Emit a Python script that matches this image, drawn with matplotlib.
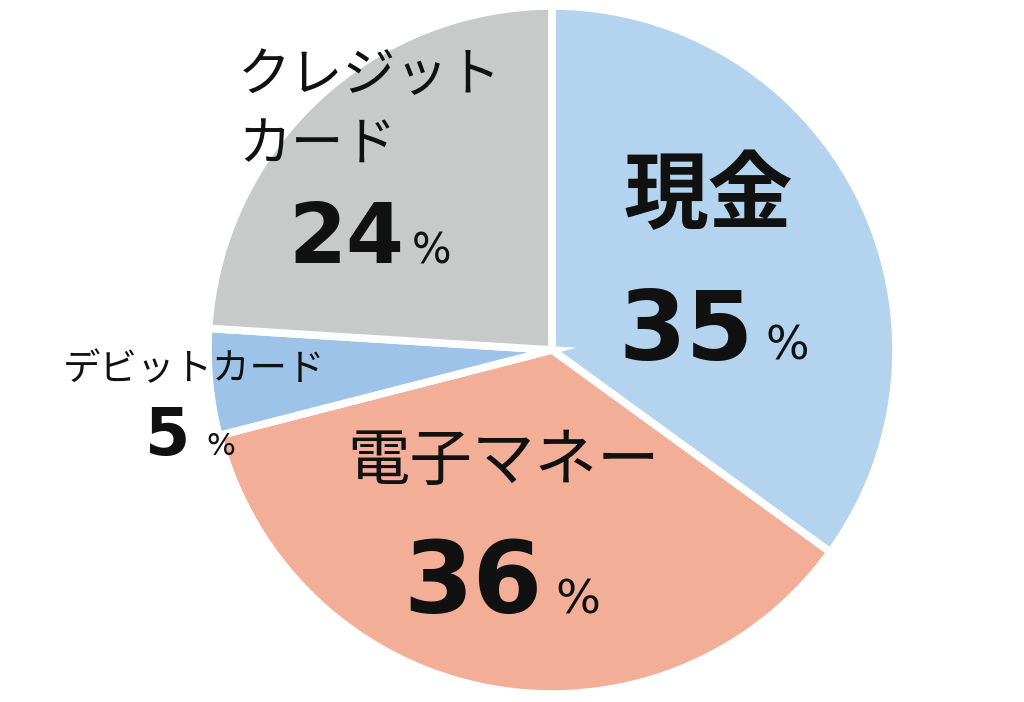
import matplotlib
matplotlib.use('Agg')
import matplotlib.pyplot as plt

plt.rcParams['font.family'] = ['Noto Sans CJK JP', 'DejaVu Sans']

labels = ['現金', '電子マネー', 'デビットカード', 'クレジットカード']
shares = [35, 36, 5, 24]
colors = ['#b3d3ee', '#f3ae98', '#9dc3e9', '#c8c9c9']

fig = plt.figure(figsize=(10.24, 7.02), dpi=100)
ax = fig.add_axes([0, 0, 1, 1])

# pie centre/radius in pixel units
ax.pie(shares, colors=colors, startangle=90, counterclock=False,
       center=(552, 352), radius=344,
       wedgeprops=dict(edgecolor='white', linewidth=5.5))
ax.set_xlim(0, 1024)
ax.set_ylim(0, 702)
ax.set_aspect('equal')
ax.axis('off')

INK = '#111111'

def pct(x, y, value, size, psize, gap):
    # big bold number ending at x, small % sign after it
    ax.text(x, y, str(value), fontsize=size, fontweight='bold',
            family='DejaVu Sans', ha='right', va='baseline', color=INK)
    ax.text(x + gap, y, '%', fontsize=psize, family='DejaVu Sans',
            ha='left', va='baseline', color=INK)

# 現金
ax.text(708, 505, '現金', fontsize=61, fontweight='bold', ha='center',
        va='center', color=INK)
pct(754, 342, shares[0], 70, 33, 12)

# 電子マネー
ax.text(504, 240, '電子マネー', fontsize=45, ha='center', va='center',
        color=INK)
pct(543, 89, shares[1], 72, 34, 12)

# クレジットカード
ax.text(238, 626, 'クレジット', fontsize=38, ha='left', va='center',
        color=INK)
ax.text(238, 558, 'カード', fontsize=38, ha='left', va='center',
        color=INK)
pct(404, 439, shares[3], 60, 30, 8)

# デビットカード
ax.text(194, 332, 'デビットカード', fontsize=27, ha='center', va='center',
        color=INK)
pct(190, 247, shares[2], 47, 22, 16)

fig.savefig('out.png', dpi=100)
